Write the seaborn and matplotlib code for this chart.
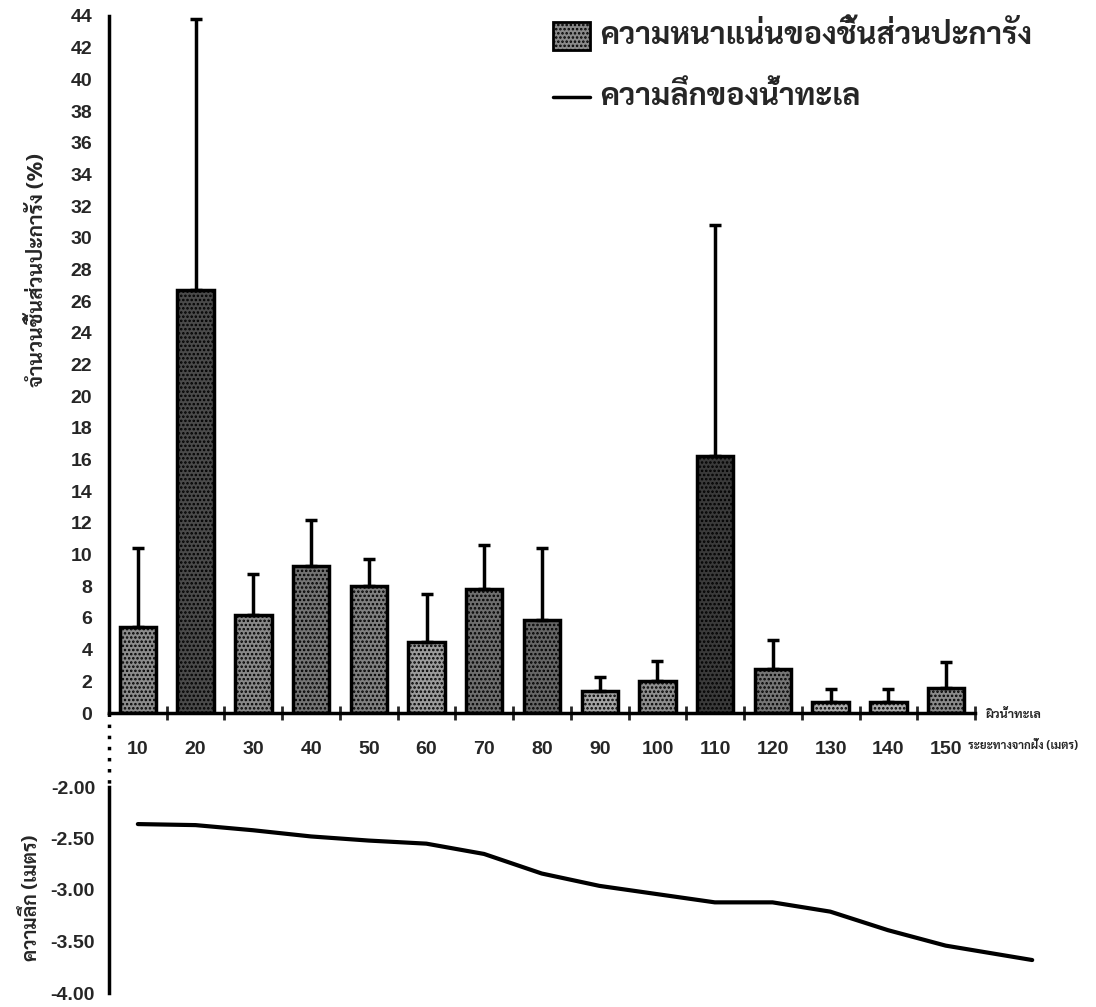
import matplotlib
matplotlib.use("Agg")
import matplotlib.pyplot as plt
import seaborn as sns
import pandas as pd
from matplotlib.patches import Rectangle
from matplotlib.lines import Line2D

# Coral fragment density per distance from shore (mean %, with SD)
distance_labels = ["10", "20", "30", "40", "50", "60", "70", "80",
                   "90", "100", "110", "120", "130", "140", "150"]
fragment_density = [5.4, 26.7, 6.2, 9.3, 8.0, 4.5, 7.8, 5.9,
                    1.4, 2.0, 16.2, 2.8, 0.7, 0.7, 1.6]
fragment_sd = [5.0, 17.1, 2.6, 2.9, 1.7, 3.0, 2.8, 4.5,
               0.9, 1.3, 14.6, 1.8, 0.8, 0.8, 1.6]
bar_greys = ["#8c8c8c", "#4a4a4a", "#888888", "#747474", "#808080",
             "#9c9c9c", "#6e6e6e", "#666666", "#a4a4a4", "#8e8e8e",
             "#3a3a3a", "#767676", "#aaaaaa", "#aaaaaa", "#8a8a8a"]

# Sea-water depth along the transect (m)
depth_distance = [10, 20, 30, 40, 50, 60, 70, 80, 90, 100,
                  110, 120, 130, 140, 150, 165]
depth_m = [-2.36, -2.37, -2.42, -2.48, -2.52, -2.55, -2.65, -2.84,
           -2.96, -3.04, -3.12, -3.12, -3.21, -3.39, -3.54, -3.68]

legend_labels = ["ความหนาแน่นของชิ้นส่วนปะการัง", "ความลึกของน้ำทะเล"]
density_ylabel = "จำนวนชิ้นส่วนปะการัง (%)"
depth_ylabel = "ความลึก (เมตร)"
surface_label = "ผิวน้ำทะเล"
distance_xlabel = "ระยะทางจากฝั่ง (เมตร)"

sns.set_style("white")
plt.rcParams["font.family"] = ["Liberation Sans", "DejaVu Sans"]
plt.rcParams["font.weight"] = "bold"
plt.rcParams["hatch.linewidth"] = 1.2
THAI = ["Sarabun", "DejaVu Sans"]

W, H = 1096, 1007
fig = plt.figure(figsize=(W / 100, H / 100), dpi=100)


def fx(px):
    return px / W


def fy(py):
    return 1 - py / H


# ---- upper panel: bars with SD ----
ax = fig.add_axes([fx(109), fy(713), fx(975) - fx(109), fy(16) - fy(713)])
df = pd.DataFrame({"distance": distance_labels, "density": fragment_density})
sns.barplot(data=df, x="distance", y="density", hue="distance",
            palette=bar_greys, legend=False, width=0.63, saturation=1,
            edgecolor="black", linewidth=2.5, errorbar=None, ax=ax)
for p in ax.patches:
    p.set_hatch("....")
ax.errorbar(range(len(fragment_density)), fragment_density,
            yerr=[[0] * len(fragment_sd), fragment_sd], fmt="none",
            ecolor="black", elinewidth=2.5, capsize=4.5, capthick=2.5,
            zorder=1)

ax.set_xlim(-0.5, len(distance_labels) - 0.5)
ax.set_ylim(0, 44)
ax.set_yticks(range(0, 45, 2))
ax.tick_params(axis="y", direction="inout", length=12, width=2,
               labelsize=14, pad=6)
ax.set_xticks(range(len(distance_labels)))
ax.set_xticklabels(distance_labels)
ax.tick_params(axis="x", which="major", length=0, pad=20, labelsize=14)
ax.set_xticks([i + 0.5 for i in range(len(distance_labels))], minor=True)
ax.tick_params(axis="x", which="minor", direction="inout", length=10,
               width=2, bottom=True)
for s in ["top", "right"]:
    ax.spines[s].set_visible(False)
for s in ["left", "bottom"]:
    ax.spines[s].set_linewidth(2.5)
    ax.spines[s].set_color("black")
ax.set_xlabel("")
ax.set_ylabel(density_ylabel, family=THAI, fontsize=15, fontweight="bold")
ax.yaxis.set_label_coords(-0.07, 0.636)

# dotted link from the surface line down to the depth panel
ax.plot([-0.5, -0.5], [0, -4.7], color="black", lw=2.5,
        linestyle=(0, (1, 2.2)), clip_on=False)

fig.text(fx(985), fy(714), surface_label, family=THAI, fontsize=9,
         fontweight="bold", va="center", ha="left")
fig.text(fx(968), fy(746), distance_xlabel, family=THAI, fontsize=8.2,
         fontweight="bold", va="center", ha="left")

# legend keys
fig.add_artist(Rectangle((fx(553), fy(50)), fx(590) - fx(553),
                         fy(22) - fy(50), transform=fig.transFigure,
                         facecolor="#8a8a8a", edgecolor="black",
                         linewidth=2, hatch="...."))
fig.add_artist(Line2D([fx(553), fx(590)], [fy(97), fy(97)],
                      transform=fig.transFigure, color="black", lw=2.5))
fig.text(fx(600), fy(36), legend_labels[0], family=THAI, fontsize=22,
         fontweight="bold", va="center", ha="left")
fig.text(fx(600), fy(97), legend_labels[1], family=THAI, fontsize=22,
         fontweight="bold", va="center", ha="left")

# ---- lower panel: depth profile ----
ax2 = fig.add_axes([fx(109), fy(993), fx(1060) - fx(109), fy(787) - fy(993)])
sns.lineplot(x=depth_distance, y=depth_m, color="black", lw=3, ax=ax2)
ax2.set_xlim(5, 5 + (1060 - 109) / 5.77)
ax2.set_ylim(-4.0, -2.0)
ax2.set_yticks([-2.0, -2.5, -3.0, -3.5, -4.0])
ax2.set_yticklabels([f"{v:.2f}" for v in [-2.0, -2.5, -3.0, -3.5, -4.0]])
ax2.tick_params(axis="y", direction="out", length=6, width=2,
                labelsize=14, pad=4)
ax2.set_xticks([])
for s in ["top", "right", "bottom"]:
    ax2.spines[s].set_visible(False)
ax2.spines["left"].set_linewidth(2.5)
ax2.spines["left"].set_color("black")
ax2.set_ylabel(depth_ylabel, family=THAI, fontsize=14, fontweight="bold")
ax2.yaxis.set_label_coords(-0.072, 0.46)

fig.savefig("out.png", dpi=100)
